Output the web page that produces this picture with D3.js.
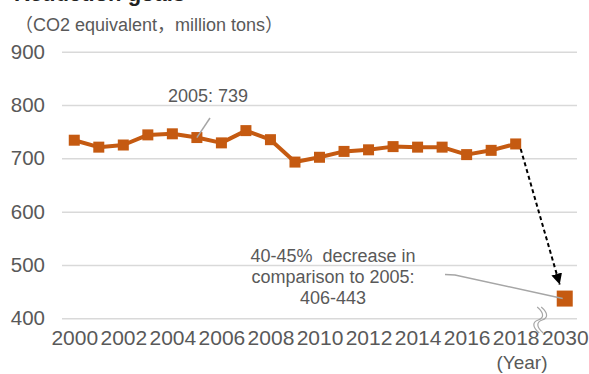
<!DOCTYPE html>
<html>
<head>
<meta charset="utf-8">
<script src="https://cdn.jsdelivr.net/npm/d3@7"></script>
<style>
	body { margin: 0; background: #fff; }
	svg text { font-family: "Liberation Sans", Arial, "Noto Sans CJK JP", sans-serif; }
</style>
</head>
<body>
<script>
// data //{{{
var years   = ["2000","2001","2002","2003","2004","2005","2006","2007","2008","2009",
               "2010","2011","2012","2013","2014","2015","2016","2017","2018","", "2030"];
var tick_years = ["2000","2002","2004","2006","2008","2010","2012","2014","2016","2018","2030"];
var emissions = [734, 721, 725, 744, 746, 739, 729, 752, 735, 693,
                 702, 713, 716, 722, 721, 721, 707, 715, 727];
var target_2030 = 437;
var y_ticks = [400, 500, 600, 700, 800, 900];
var unit_label = "（CO2 equivalent，million tons）";
var note_2005 = "2005: 739";
var note_2030 = ["40-45%  decrease in", "comparison to 2005:", "406-443"];
//}}}

var W = 589, H = 374;
var orange = "#c55a11", grey_txt = "#595959", grid = "#d9d9d9", lead = "#a6a6a6";

var svg = d3.select("body").append("svg").attr("width", W).attr("height", H);

var x = d3.scalePoint().domain(years).range([62, 577]).padding(0.5);
var y = d3.scaleLinear().domain([400, 900]).range([318.3, 51.7]);

// headings //{{{
// the chart title sits above the crop, only its lower edge shows
svg.append("text").attr("x", 14).attr("y", 1)
	.attr("font-size", 22).attr("font-weight", "bold").attr("fill", "#222")
	.text("Reduction goals");
svg.append("text").attr("x", 15).attr("y", 31)
	.attr("font-size", 18).attr("fill", grey_txt)
	.text(unit_label);
//}}}
// grid + y axis //{{{
svg.append("g").attr("transform", "translate(62,0)")
	.call(d3.axisRight(y).tickValues(y_ticks).tickSize(577 - 62).tickFormat(""))
	.call(g => g.select(".domain").remove())
	.selectAll("line").attr("stroke", grid).attr("stroke-width", 1.5);

svg.append("g").attr("transform", "translate(62,0)")
	.call(d3.axisLeft(y).tickValues(y_ticks).tickSize(0).tickPadding(17))
	.call(g => g.select(".domain").remove())
	.selectAll("text")
	.attr("font-size", 20.5).attr("fill", grey_txt)
	.attr("font-family", "Liberation Sans, Arial, sans-serif");
//}}}
// x axis //{{{
var xa = svg.append("g").attr("transform", "translate(0,345)")
	.call(d3.axisBottom(x).tickValues(tick_years).tickSize(0).tickPadding(0))
	.call(g => g.select(".domain").remove());
xa.selectAll("text")
	.attr("y", 0).attr("dy", 0)
	.attr("font-size", 21).attr("fill", grey_txt)
	.attr("font-family", "Liberation Sans, Arial, sans-serif");

svg.append("text").attr("x", 522).attr("y", 369)
	.attr("text-anchor", "middle").attr("font-size", 19).attr("fill", grey_txt)
	.text("(Year)");

// axis break between 2018 and 2030
var bx = x("");
var brk = svg.append("g").attr("fill", "none").attr("stroke", lead).attr("stroke-width", 1.2);
svg.insert("rect", "g").attr("x", bx - 2).attr("y", 315).attr("width", 5).attr("height", 8).attr("fill", "#fff");
[-2, 2].forEach(function(o) {
	brk.append("path").attr("d",
		"M" + (bx + o - 1) + ",307 C" + (bx + o + 6) + ",313 " + (bx + o + 6) + ",318 " + (bx + o) + ",320" +
		" C" + (bx + o - 6) + ",322 " + (bx + o - 6) + ",327 " + (bx + o + 1) + ",333");
});
//}}}
// series //{{{
var pts = emissions.map(function(v, i) { return [years[i], v]; });

svg.append("path").datum(pts)
	.attr("fill", "none").attr("stroke", orange).attr("stroke-width", 4)
	.attr("stroke-linejoin", "round")
	.attr("d", d3.line().x(d => x(d[0])).y(d => y(d[1])));

svg.append("g").selectAll("rect").data(pts).join("rect")
	.attr("x", d => x(d[0]) - 5.5).attr("y", d => y(d[1]) - 5.5)
	.attr("width", 11).attr("height", 11).attr("fill", orange);

svg.append("rect")
	.attr("x", x("2030") - 8).attr("y", y(target_2030) - 8)
	.attr("width", 16).attr("height", 16).attr("fill", orange);
//}}}
// dashed arrow 2018 -> 2030 //{{{
svg.append("defs").append("marker")
	.attr("id", "tri").attr("viewBox", "0 0 10 10").attr("refX", 10).attr("refY", 5)
	.attr("markerWidth", 5.5).attr("markerHeight", 5.5).attr("markerUnits", "strokeWidth")
	.attr("orient", "auto")
	.append("path").attr("d", "M0,0 L10,5 L0,10 Z").attr("fill", "#000");

svg.append("line")
	.attr("x1", x("2018") + 5).attr("y1", y(emissions[18]) + 5)
	.attr("x2", x("2030") - 5).attr("y2", y(target_2030) - 14)
	.attr("stroke", "#000").attr("stroke-width", 2).attr("stroke-dasharray", "4,3")
	.attr("marker-end", "url(#tri)");
//}}}
// annotations //{{{
svg.append("line")
	.attr("x1", x("2005")).attr("y1", y(emissions[5]))
	.attr("x2", 210).attr("y2", 118)
	.attr("stroke", lead).attr("stroke-width", 1.5);
svg.append("text").attr("x", 208).attr("y", 101.5)
	.attr("text-anchor", "middle").attr("font-size", 18).attr("fill", grey_txt)
	.text(note_2005);

svg.append("polyline")
	.attr("points", [[445, 274.5], [455, 275], [x("2030") - 2, y(target_2030)]].join(" "))
	.attr("fill", "none").attr("stroke", lead).attr("stroke-width", 1.5);

svg.append("g").selectAll("text").data(note_2030).join("text")
	.attr("x", 333).attr("y", (d, i) => 262 + i * 21)
	.attr("text-anchor", "middle").attr("font-size", 18).attr("fill", grey_txt)
	.style("white-space", "pre")
	.text(d => d);
//}}}
</script>
</body>
</html>
